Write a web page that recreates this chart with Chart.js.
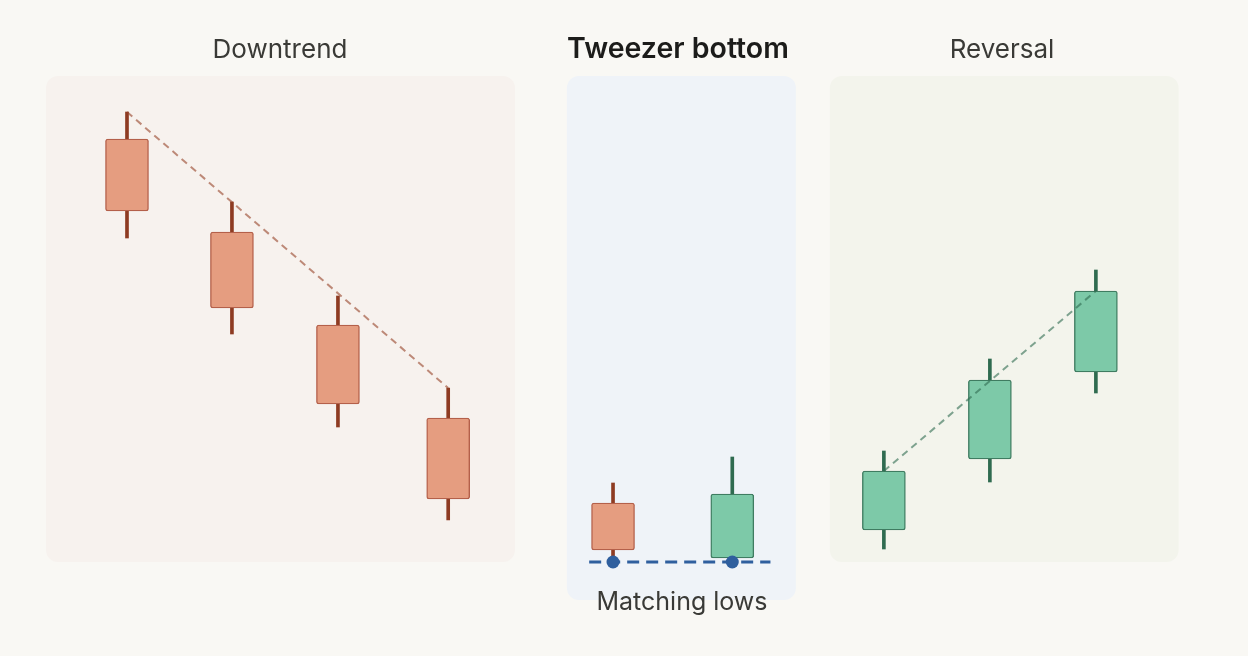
<!DOCTYPE html>
<html>
<head>
    <meta name='viewport' content='width=device-width, initial-scale=1'>
    <title>Tweezer bottom</title>
    <style>
        body { margin: 0; background: #f9f8f4; font-family: 'Inter', 'Noto Sans', sans-serif; }
        .wrap { position: relative; width: 1248px; height: 656px; }
        canvas { position: absolute; left: 0; top: 0; }
        .label { position: absolute; transform: translate(-50%, -50%); color: #3a3a36; font-size: 26px; white-space: nowrap; }
        .label.main { font-weight: 600; font-size: 28.5px; color: #1c1c1a; }
        .label.note { font-size: 25px; }
    </style>
</head>
<body>
    <div class="wrap">
        <canvas id="tweezerChart" width="1248" height="656"></canvas>
        <div class="label" style="left:280px; top:48px">Downtrend</div>
        <div class="label main" style="left:678px; top:47px">Tweezer bottom</div>
        <div class="label" style="left:1002px; top:48px">Reversal</div>
        <div class="label note" style="left:682px; top:601px">Matching lows</div>
    </div>

    <script src="https://cdn.jsdelivr.net/npm/chart.js"></script>
    <script>
        // candle slots along x, prices along y
        const downX = [1, 1.99, 2.99, 4.03];
        const downOpen = [42.3, 33.0, 23.7, 14.4];
        const downClose = [35.1, 25.4, 15.8, 6.3];
        const downHigh = [45.0, 36.0, 26.6, 17.4];
        const downLow = [32.4, 22.8, 13.5, 4.2];

        const tweezX = [5.585, 6.71];
        const tweezOpen = [5.9, 0.4];
        const tweezClose = [1.2, 6.8];
        const tweezHigh = [7.9, 10.5];
        const tweezLow = [0, 0];

        const revX = [8.14, 9.14, 10.14];
        const revOpen = [3.2, 10.3, 19.0];
        const revClose = [9.1, 18.2, 27.1];
        const revHigh = [11.1, 20.3, 29.2];
        const revLow = [1.3, 8.0, 16.9];

        const lowLineX = [5.36, 7.07];

        const panels = [
            { x0: 0.236, x1: 4.66, y0: 0.0, y1: 48.6, color: '#f7f2ee' },
            { x0: 5.15, x1: 7.31, y0: -3.8, y1: 48.6, color: '#eff3f8' },
            { x0: 7.63, x1: 10.92, y0: 0.0, y1: 48.6, color: '#f3f4ec' }
        ];

        const red = { body: '#e59d80', border: '#b4604a', wick: '#8e3b22', dash: 'rgba(150,66,40,0.6)' };
        const green = { body: '#7dc9a8', border: '#3f7c61', wick: '#2f6b50', dash: 'rgba(47,107,80,0.6)' };
        const blue = '#2f5f9e';

        function bodies(xs, open, close) {
            return xs.map((x, i) => ({ x: x, y: [open[i], close[i]] }));
        }
        function wicks(xs, low, high) {
            return xs.map((x, i) => ({ x: x, y: [low[i], high[i]] }));
        }

        const panelPlugin = {
            id: 'panels',
            beforeDatasetsDraw(chart) {
                const ctx = chart.ctx;
                const xs = chart.scales.x;
                const ys = chart.scales.y;
                ctx.save();
                panels.forEach(p => {
                    const l = xs.getPixelForValue(p.x0);
                    const r = xs.getPixelForValue(p.x1);
                    const t = ys.getPixelForValue(p.y1);
                    const b = ys.getPixelForValue(p.y0);
                    ctx.fillStyle = p.color;
                    ctx.beginPath();
                    ctx.roundRect(l, t, r - l, b - t, 12);
                    ctx.fill();
                });
                ctx.restore();
            }
        };

        const bodyStyle = (c) => ({
            backgroundColor: c.body,
            borderColor: c.border,
            borderWidth: 1.4,
            borderRadius: 2.5,
            borderSkipped: false,
            barThickness: 43,
            grouped: false
        });
        const wickStyle = (c) => ({
            backgroundColor: c.wick,
            borderWidth: 0,
            barThickness: 3,
            grouped: false
        });

        const ctx = document.getElementById('tweezerChart').getContext('2d');
        new Chart(ctx, {
            data: {
                datasets: [
                    {
                        type: 'scatter',
                        data: tweezX.map((x, i) => ({ x: x, y: tweezLow[i] })),
                        pointRadius: 6.5,
                        pointBackgroundColor: blue,
                        pointBorderWidth: 0,
                        showLine: false
                    },
                    {
                        type: 'line',
                        data: lowLineX.map(x => ({ x: x, y: tweezLow[0] })),
                        borderColor: blue,
                        borderWidth: 3,
                        borderDash: [12, 7],
                        pointRadius: 0
                    },
                    {
                        type: 'line',
                        data: [
                            { x: revX[0], y: revClose[0] },
                            { x: revX[revX.length - 1], y: revClose[revClose.length - 1] }
                        ],
                        borderColor: green.dash,
                        borderWidth: 2,
                        borderDash: [7, 5],
                        pointRadius: 0
                    },
                    {
                        type: 'line',
                        data: [
                            { x: downX[0], y: downHigh[0] },
                            { x: downX[downX.length - 1], y: downHigh[downHigh.length - 1] }
                        ],
                        borderColor: red.dash,
                        borderWidth: 2,
                        borderDash: [7, 5],
                        pointRadius: 0
                    },
                    Object.assign({ type: 'bar', data: bodies(downX, downOpen, downClose) }, bodyStyle(red)),
                    Object.assign({ type: 'bar', data: bodies([tweezX[0]], [tweezOpen[0]], [tweezClose[0]]) }, bodyStyle(red)),
                    Object.assign({ type: 'bar', data: bodies([tweezX[1]], [tweezOpen[1]], [tweezClose[1]]) }, bodyStyle(green)),
                    Object.assign({ type: 'bar', data: bodies(revX, revOpen, revClose) }, bodyStyle(green)),
                    Object.assign({ type: 'bar', data: wicks(downX, downLow, downHigh) }, wickStyle(red)),
                    Object.assign({ type: 'bar', data: wicks([tweezX[0]], [tweezLow[0]], [tweezHigh[0]]) }, wickStyle(red)),
                    Object.assign({ type: 'bar', data: wicks([tweezX[1]], [tweezLow[1]], [tweezHigh[1]]) }, wickStyle(green)),
                    Object.assign({ type: 'bar', data: wicks(revX, revLow, revHigh) }, wickStyle(green))
                ]
            },
            options: {
                responsive: false,
                animation: false,
                layout: { padding: 0, autoPadding: false },
                plugins: {
                    legend: { display: false },
                    tooltip: { enabled: false }
                },
                scales: {
                    x: { type: 'linear', min: -0.198, max: 11.575, offset: false, display: false },
                    y: { type: 'linear', min: -9.4, max: 56.2, display: false }
                }
            },
            plugins: [panelPlugin]
        });
    </script>
</body>
</html>
